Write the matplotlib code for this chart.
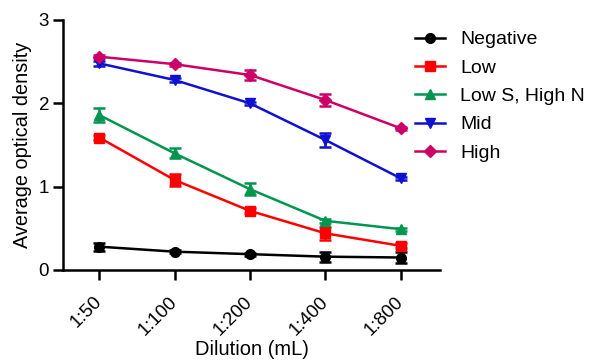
import matplotlib
matplotlib.use("Agg")
import matplotlib.pyplot as plt
from matplotlib.lines import Line2D

plt.rcParams['font.family'] = ['Liberation Sans', 'DejaVu Sans']

dilutions = ["1:50", "1:100", "1:200", "1:400", "1:800"]
series_names = ["Negative", "Low", "Low S, High N", "Mid", "High"]
negative = [0.28, 0.22, 0.19, 0.16, 0.15]
negative_err = [0.05, 0.02, 0.02, 0.06, 0.07]
low = [1.59, 1.08, 0.71, 0.44, 0.29]
low_err = [0.03, 0.07, 0.03, 0.08, 0.03]
low_s_high_n = [1.86, 1.40, 0.97, 0.59, 0.49]
low_s_high_n_err = [0.08, 0.06, 0.07, 0.02, 0.02]
mid = [2.48, 2.28, 2.00, 1.56, 1.10]
mid_err = [0.03, 0.02, 0.02, 0.08, 0.02]
high = [2.56, 2.47, 2.34, 2.04, 1.70]
high_err = [0.02, 0.02, 0.06, 0.07, 0.02]

colors = ["#000000", "#FF0000", "#009650", "#1010D0", "#CC0066"]
markers = ["o", "s", "^", "v", "D"]
sizes = [7, 7, 7.5, 7.5, 6.5]

fig = plt.figure(figsize=(5.91, 3.6), dpi=100)
ax = fig.add_axes([63/591, 1-270/360, (440-63)/591, 250/360])

x = list(range(len(dilutions)))
data = [negative, low, low_s_high_n, mid, high]
errs = [negative_err, low_err, low_s_high_n_err, mid_err, high_err]
handles = []
for name, y, e, c, m, s in zip(series_names, data, errs, colors, markers, sizes):
    ax.errorbar(x, y, yerr=e, color=c, marker=m, markersize=s, linewidth=1.8,
                elinewidth=1.8, capsize=4, capthick=1.8)
    handles.append(Line2D([], [], color=c, marker=m, markersize=s, linewidth=1.8, label=name))

ax.set_xlim(-0.48, 4.52)
ax.set_ylim(0, 3)
ax.set_yticks([0, 1, 2, 3])
ax.set_xticks(x)
ax.set_xticklabels(dilutions, rotation=45, ha='right', va='center', rotation_mode='anchor')
for sp in ['top', 'right']:
    ax.spines[sp].set_visible(False)
for sp in ['left', 'bottom']:
    ax.spines[sp].set_linewidth(1.8)
ax.tick_params(axis='both', direction='out', length=7, width=1.8, labelsize=13.5)
ax.tick_params(axis='x', pad=14)
ax.tick_params(axis='y', pad=3)
ax.set_xlabel("Dilution (mL)", fontsize=14.5, labelpad=1)
ax.set_ylabel("Average optical density", fontsize=14.3, labelpad=5)

fig.legend(handles=handles, loc='upper left', bbox_to_anchor=(407/591, 1-23/360),
           bbox_transform=fig.transFigure, frameon=False, borderaxespad=0,
           fontsize=14, handlelength=1.55, labelspacing=0.55, handletextpad=0.8)

fig.savefig("out.png", dpi=100)
